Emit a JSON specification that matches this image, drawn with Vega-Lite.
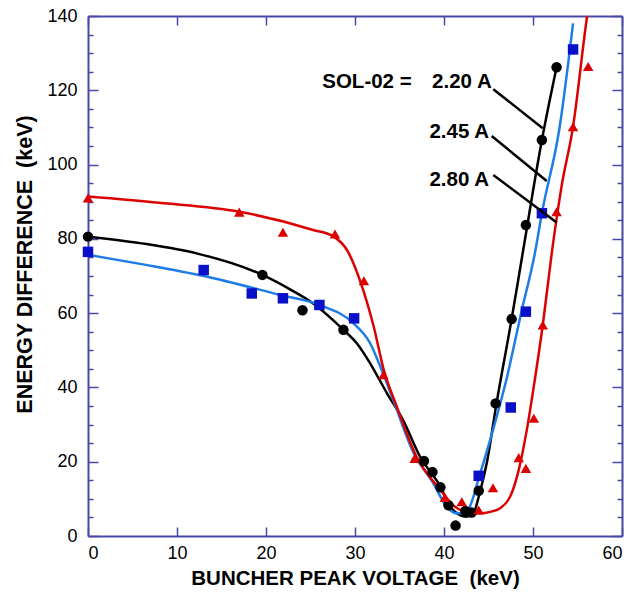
{
  "$schema": "https://vega.github.io/schema/vega-lite/v6.json",
  "width": 534,
  "height": 520,
  "autosize": "none",
  "padding": {"left": 88, "top": 16, "right": 9, "bottom": 62},
  "background": "white",
  "config": {"view": {"stroke": null}},
  "datasets": {
    "fit": [
      {"series": "2.20 A", "x": 0, "y": 80.6}, {"series": "2.20 A", "x": 6.6, "y": 78.6}, {"series": "2.20 A", "x": 12.2, "y": 76.1},
      {"series": "2.20 A", "x": 19.6, "y": 70.3}, {"series": "2.20 A", "x": 23, "y": 66}, {"series": "2.20 A", "x": 25.3, "y": 62.6},
      {"series": "2.20 A", "x": 28.7, "y": 55.5}, {"series": "2.20 A", "x": 30.2, "y": 51.9}, {"series": "2.20 A", "x": 31.7, "y": 46.5},
      {"series": "2.20 A", "x": 33.6, "y": 38.4}, {"series": "2.20 A", "x": 35.4, "y": 31.2}, {"series": "2.20 A", "x": 37.3, "y": 21.4},
      {"series": "2.20 A", "x": 39.6, "y": 13.3}, {"series": "2.20 A", "x": 40.7, "y": 7.9}, {"series": "2.20 A", "x": 41.8, "y": 5.65},
      {"series": "2.20 A", "x": 42.5, "y": 5.2}, {"series": "2.20 A", "x": 43.3, "y": 6.1}, {"series": "2.20 A", "x": 44.0, "y": 11.5},
      {"series": "2.20 A", "x": 44.8, "y": 19.6}, {"series": "2.20 A", "x": 45.9, "y": 35.7}, {"series": "2.20 A", "x": 47.6, "y": 58.4},
      {"series": "2.20 A", "x": 48.9, "y": 77.0}, {"series": "2.20 A", "x": 51.0, "y": 106.6}, {"series": "2.20 A", "x": 52.65, "y": 126.2},
      {"series": "2.45 A", "x": 0, "y": 75.7}, {"series": "2.45 A", "x": 6.5, "y": 73.0}, {"series": "2.45 A", "x": 13.0, "y": 70.0},
      {"series": "2.45 A", "x": 21.6, "y": 64.9}, {"series": "2.45 A", "x": 26.0, "y": 62.2}, {"series": "2.45 A", "x": 29.8, "y": 57.3},
      {"series": "2.45 A", "x": 31.7, "y": 51.9}, {"series": "2.45 A", "x": 33.0, "y": 44.7}, {"series": "2.45 A", "x": 34.3, "y": 36.6},
      {"series": "2.45 A", "x": 36.6, "y": 22.3}, {"series": "2.45 A", "x": 38.8, "y": 14.2}, {"series": "2.45 A", "x": 40.3, "y": 7.9},
      {"series": "2.45 A", "x": 41.4, "y": 6.1}, {"series": "2.45 A", "x": 42.2, "y": 6.1}, {"series": "2.45 A", "x": 42.9, "y": 7.9},
      {"series": "2.45 A", "x": 43.9, "y": 15.5}, {"series": "2.45 A", "x": 45.5, "y": 28.5}, {"series": "2.45 A", "x": 47.0, "y": 42.0},
      {"series": "2.45 A", "x": 48.7, "y": 60.4}, {"series": "2.45 A", "x": 50.2, "y": 76.0}, {"series": "2.45 A", "x": 51.0, "y": 86.9},
      {"series": "2.45 A", "x": 53.0, "y": 110.2}, {"series": "2.45 A", "x": 54.5, "y": 138.0},
      {"series": "2.80 A", "x": 0, "y": 91.4}, {"series": "2.80 A", "x": 8, "y": 89.7}, {"series": "2.80 A", "x": 17, "y": 87.3},
      {"series": "2.80 A", "x": 25.3, "y": 82.4}, {"series": "2.80 A", "x": 27.6, "y": 80.6}, {"series": "2.80 A", "x": 29.1, "y": 77.0},
      {"series": "2.80 A", "x": 30.6, "y": 68.5}, {"series": "2.80 A", "x": 32.1, "y": 56.4}, {"series": "2.80 A", "x": 33.2, "y": 45.0},
      {"series": "2.80 A", "x": 34.7, "y": 34.8}, {"series": "2.80 A", "x": 36.9, "y": 21.4}, {"series": "2.80 A", "x": 39.6, "y": 12.4},
      {"series": "2.80 A", "x": 41.0, "y": 8.3}, {"series": "2.80 A", "x": 42.5, "y": 6.5}, {"series": "2.80 A", "x": 44.0, "y": 6.1},
      {"series": "2.80 A", "x": 45.2, "y": 6.5}, {"series": "2.80 A", "x": 46.3, "y": 7.5}, {"series": "2.80 A", "x": 47.6, "y": 11.5},
      {"series": "2.80 A", "x": 48.4, "y": 17.8}, {"series": "2.80 A", "x": 49.3, "y": 28.5}, {"series": "2.80 A", "x": 50.2, "y": 42.0},
      {"series": "2.80 A", "x": 51.1, "y": 56.8}, {"series": "2.80 A", "x": 52.1, "y": 76.0}, {"series": "2.80 A", "x": 53.2, "y": 94.0},
      {"series": "2.80 A", "x": 54.5, "y": 110.2}, {"series": "2.80 A", "x": 56.1, "y": 140.3}, {"series": "2.80 A", "x": 56.3, "y": 143.5}
    ],
    "obs": [
      {"series": "2.20 A", "x": 0, "y": 80.6}, {"series": "2.20 A", "x": 19.6, "y": 70.3}, {"series": "2.20 A", "x": 24.1, "y": 60.8},
      {"series": "2.20 A", "x": 28.7, "y": 55.5}, {"series": "2.20 A", "x": 37.75, "y": 20.2}, {"series": "2.20 A", "x": 38.7, "y": 17.2},
      {"series": "2.20 A", "x": 39.6, "y": 13.1}, {"series": "2.20 A", "x": 40.5, "y": 8.3}, {"series": "2.20 A", "x": 41.3, "y": 2.8},
      {"series": "2.20 A", "x": 42.4, "y": 6.7}, {"series": "2.20 A", "x": 43.1, "y": 6.3}, {"series": "2.20 A", "x": 43.9, "y": 12.2},
      {"series": "2.20 A", "x": 45.8, "y": 35.7}, {"series": "2.20 A", "x": 47.6, "y": 58.4}, {"series": "2.20 A", "x": 49.2, "y": 83.7},
      {"series": "2.20 A", "x": 51.0, "y": 106.6}, {"series": "2.20 A", "x": 52.65, "y": 126.2},
      {"series": "2.45 A", "x": 0, "y": 76.5}, {"series": "2.45 A", "x": 13.0, "y": 71.6}, {"series": "2.45 A", "x": 18.4, "y": 65.3},
      {"series": "2.45 A", "x": 21.9, "y": 64.0}, {"series": "2.45 A", "x": 26.0, "y": 62.2}, {"series": "2.45 A", "x": 29.9, "y": 58.6},
      {"series": "2.45 A", "x": 43.9, "y": 16.2}, {"series": "2.45 A", "x": 47.5, "y": 34.6}, {"series": "2.45 A", "x": 49.2, "y": 60.4},
      {"series": "2.45 A", "x": 51.0, "y": 86.9}, {"series": "2.45 A", "x": 54.5, "y": 131.0},
      {"series": "2.80 A", "x": 0, "y": 91.0}, {"series": "2.80 A", "x": 17.0, "y": 87.2}, {"series": "2.80 A", "x": 21.9, "y": 81.8},
      {"series": "2.80 A", "x": 27.75, "y": 81.3}, {"series": "2.80 A", "x": 31.0, "y": 68.7}, {"series": "2.80 A", "x": 33.2, "y": 43.4},
      {"series": "2.80 A", "x": 36.7, "y": 20.9}, {"series": "2.80 A", "x": 40.1, "y": 10.4}, {"series": "2.80 A", "x": 42.0, "y": 9.2},
      {"series": "2.80 A", "x": 43.9, "y": 7.0}, {"series": "2.80 A", "x": 45.5, "y": 13.0}, {"series": "2.80 A", "x": 48.4, "y": 21.1},
      {"series": "2.80 A", "x": 49.2, "y": 18.2}, {"series": "2.80 A", "x": 50.1, "y": 31.7}, {"series": "2.80 A", "x": 51.1, "y": 56.8},
      {"series": "2.80 A", "x": 52.65, "y": 87.3}, {"series": "2.80 A", "x": 54.5, "y": 110.2}, {"series": "2.80 A", "x": 56.2, "y": 126.4}
    ],
    "leaders": [
      {"series": "2.20 A", "x": 45.54, "y": 120.3, "x2": 51.09, "y2": 109.8},
      {"series": "2.45 A", "x": 45.36, "y": 107.7, "x2": 51.54, "y2": 95.6},
      {"series": "2.80 A", "x": 45.54, "y": 97.2, "x2": 52.66, "y2": 84.4}
    ],
    "labels": [
      {"label": "SOL-02 =", "x": 36.37, "y": 122.15},
      {"label": "2.20 A", "x": 45.36, "y": 122.15},
      {"label": "2.45 A", "x": 45.06, "y": 108.86},
      {"label": "2.80 A", "x": 45.06, "y": 95.85}
    ]
  },
  "resolve": {"axis": {"x": "independent", "y": "independent"}},
  "layer": [
    {
      "data": {"name": "fit"},
      "mark": {"type": "line", "interpolate": "monotone", "strokeWidth": 2.5, "clip": true},
      "encoding": {
        "x": {"field": "x", "type": "quantitative", "scale": {"domain": [0, 60], "nice": false},
          "axis": {"orient": "top", "values": [0, 10, 20, 30, 40, 50, 60], "labels": false, "title": null, "grid": false,
            "tickSize": -9, "tickWidth": 1.5, "tickColor": "#4848a8", "domainColor": "#4848a8", "domainWidth": 2}},
        "y": {"field": "y", "type": "quantitative", "scale": {"domain": [0, 140], "nice": false},
          "axis": {"orient": "right", "values": [0, 20, 40, 60, 80, 100, 120, 140],
            "labels": false, "title": null, "grid": false,
            "tickSize": -10, "tickWidth": 1.5, "tickColor": "#4848a8", "domainColor": "#4848a8", "domainWidth": 2}},
        "detail": {"field": "series"},
        "stroke": {"field": "series", "type": "nominal", "legend": null,
          "scale": {"domain": ["2.20 A", "2.45 A", "2.80 A"], "range": ["#000000", "#1f7ce6", "#dc0000"]}}
      }
    },
    {
      "data": {"name": "obs"},
      "mark": {"type": "point", "filled": true, "opacity": 1, "size": 110},
      "encoding": {
        "x": {"field": "x", "type": "quantitative",
          "axis": {"orient": "bottom", "tickCount": 6, "grid": false,
            "title": "BUNCHER PEAK VOLTAGE \u00a0(keV)", "titleFontSize": 20.5, "titleFontWeight": "bold", "titleColor": "#000000", "titleFont": "Liberation Sans", "titlePadding": 6,
            "labelFontSize": 18, "labelColor": "#000000", "labelFont": "Liberation Sans", "labelPadding": 17, "labelFlush": true,
            "tickSize": -9, "tickWidth": 1.5, "tickColor": "#4848a8", "domainColor": "#4848a8", "domainWidth": 2}},
        "y": {"field": "y", "type": "quantitative",
          "axis": {"orient": "left", "values": [0, 20, 40, 60, 80, 100, 120, 140], "grid": false,
            "title": "ENERGY DIFFERENCE \u00a0(keV)", "titleFontSize": 21.5, "titleFontWeight": "bold", "titleColor": "#000000", "titleFont": "Liberation Sans", "titlePadding": 10,
            "titleY": 248,
            "labelFontSize": 18, "labelColor": "#000000", "labelFont": "Liberation Sans", "labelPadding": 21, "labelFlush": false,
            "tickSize": -10, "tickWidth": 1.5, "tickColor": "#4848a8", "domainColor": "#4848a8", "domainWidth": 2}},
        "shape": {"field": "series", "type": "nominal", "legend": null,
          "scale": {"domain": ["2.20 A", "2.45 A", "2.80 A"], "range": ["circle", "square", "triangle-up"]}},
        "fill": {"field": "series", "type": "nominal", "legend": null,
          "scale": {"domain": ["2.20 A", "2.45 A", "2.80 A"], "range": ["#000000", "#0a10c8", "#dc0000"]}}
      }
    },
    {
      "data": {"name": "leaders"},
      "mark": {"type": "rule", "strokeWidth": 2.5, "color": "#000000"},
      "encoding": {
        "x": {"field": "x", "type": "quantitative", "axis": null},
        "y": {"field": "y", "type": "quantitative",
          "axis": {"orient": "left", "values": [5, 10, 15, 25, 30, 35, 45, 50, 55, 65, 70, 75, 85, 90, 95, 105, 110, 115, 125, 130, 135],
            "labels": false, "title": null, "grid": false, "domain": false, "offset": 0,
            "tickSize": -5, "tickWidth": 1.5, "tickColor": "#4848a8"}},
        "x2": {"field": "x2"},
        "y2": {"field": "y2"}
      }
    },
    {
      "data": {"name": "labels"},
      "mark": {"type": "text", "align": "right", "baseline": "middle", "fontSize": 20.5, "fontWeight": "bold", "font": "Liberation Sans", "color": "#000000"},
      "encoding": {
        "x": {"field": "x", "type": "quantitative", "axis": null},
        "y": {"field": "y", "type": "quantitative",
          "axis": {"orient": "right", "values": [5, 10, 15, 25, 30, 35, 45, 50, 55, 65, 70, 75, 85, 90, 95, 105, 110, 115, 125, 130, 135],
            "labels": false, "title": null, "grid": false, "domain": false, "offset": 0,
            "tickSize": -5, "tickWidth": 1.5, "tickColor": "#4848a8"}},
        "text": {"field": "label"}
      }
    }
  ]
}
